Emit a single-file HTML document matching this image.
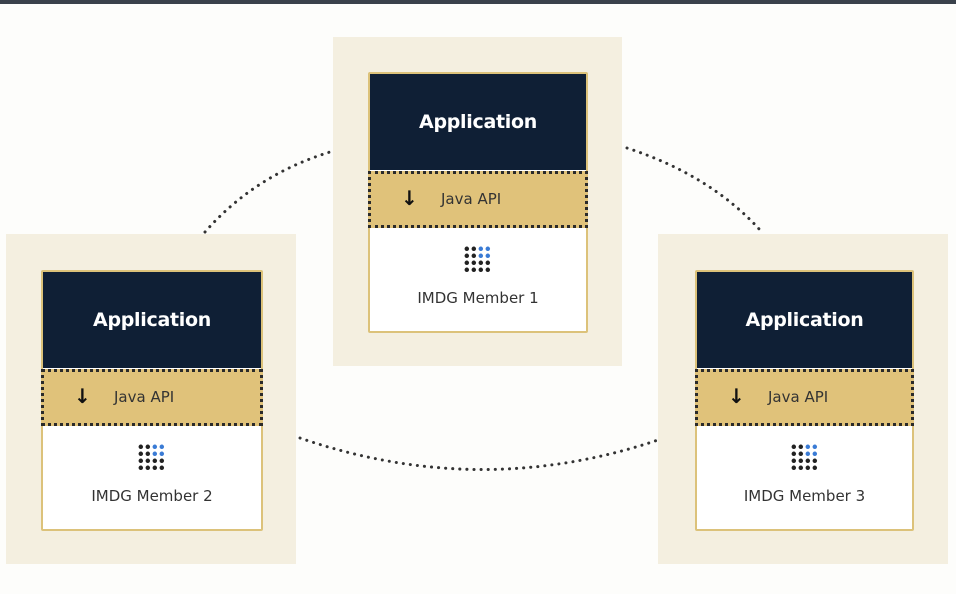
<!DOCTYPE html>
<html><head><style>
body{margin:0;width:956px;height:594px;background:#fdfdfb;position:relative;overflow:hidden;font-family:"DejaVu Sans","Liberation Sans",sans-serif}
.top{position:absolute;left:0;top:0;width:956px;height:4px;background:#3a414b}
.panel{position:absolute;background:#f4efe0}
.card{position:absolute;background:#fff;border:2px solid #dcc27a;border-radius:2px;box-sizing:border-box}
.app{position:absolute;left:0;top:0;right:0;height:96px;background:#0f1f35;color:#fff;font-weight:bold;font-size:19px;text-align:center;line-height:96px;letter-spacing:-0.3px}
.api{position:absolute;left:-2px;right:-2px;top:97px;height:57px;background:#e0c27a;border:3px dotted #2a2a2a;box-sizing:border-box;font-size:15px;color:#333;line-height:51px}
.api span{position:absolute;left:70px}
.api i{position:absolute;left:30px;top:13px;font-style:normal;font-weight:bold;font-size:20px;line-height:22px;color:#111}
.grid{position:absolute;left:50%;margin-left:-14px;top:172px;width:28px;height:28px}
.lbl{position:absolute;left:0;right:0;top:215px;text-align:center;font-size:15px;color:#333}
</style></head><body>
<div class="top"></div>
<svg width="956" height="594" style="position:absolute;left:0;top:0">
<g fill="none" stroke="#333" stroke-width="3" stroke-dasharray="0.1 7" stroke-linecap="round">
<path d="M205 232 Q255 175 330 152"/>
<path d="M627 148 Q710 175 760 230"/>
<path d="M300 438 Q480 500 658 440"/>
</g></svg>
<div class="panel" style="left:333px;top:37px;width:289px;height:329px"></div>
<div class="panel" style="left:6px;top:234px;width:290px;height:330px"></div>
<div class="panel" style="left:658px;top:234px;width:290px;height:330px"></div>

<div class="card" style="left:368px;top:72px;width:220px;height:261px">
<div class="app">Application</div><div class="api"><i>↓</i><span>Java API</span></div>
<svg class="grid" viewBox="0 0 20 20"><g fill="#222"><circle cx="2" cy="2" r="1.6"/><circle cx="7" cy="2" r="1.6"/><circle cx="2" cy="7" r="1.6"/><circle cx="7" cy="7" r="1.6"/><circle cx="2" cy="12" r="1.6"/><circle cx="7" cy="12" r="1.6"/><circle cx="12" cy="12" r="1.6"/><circle cx="17" cy="12" r="1.6"/><circle cx="2" cy="17" r="1.6"/><circle cx="7" cy="17" r="1.6"/><circle cx="12" cy="17" r="1.6"/><circle cx="17" cy="17" r="1.6"/></g><g fill="#3a7bd5"><circle cx="12" cy="2" r="1.6"/><circle cx="17" cy="2" r="1.6"/><circle cx="12" cy="7" r="1.6"/><circle cx="17" cy="7" r="1.6"/></g></svg>
<div class="lbl">IMDG Member 1</div></div>

<div class="card" style="left:41px;top:270px;width:222px;height:261px">
<div class="app">Application</div><div class="api"><i>↓</i><span>Java API</span></div>
<svg class="grid" viewBox="0 0 20 20"><g fill="#222"><circle cx="2" cy="2" r="1.6"/><circle cx="7" cy="2" r="1.6"/><circle cx="2" cy="7" r="1.6"/><circle cx="7" cy="7" r="1.6"/><circle cx="2" cy="12" r="1.6"/><circle cx="7" cy="12" r="1.6"/><circle cx="12" cy="12" r="1.6"/><circle cx="17" cy="12" r="1.6"/><circle cx="2" cy="17" r="1.6"/><circle cx="7" cy="17" r="1.6"/><circle cx="12" cy="17" r="1.6"/><circle cx="17" cy="17" r="1.6"/></g><g fill="#3a7bd5"><circle cx="12" cy="2" r="1.6"/><circle cx="17" cy="2" r="1.6"/><circle cx="12" cy="7" r="1.6"/><circle cx="17" cy="7" r="1.6"/></g></svg>
<div class="lbl">IMDG Member 2</div></div>

<div class="card" style="left:695px;top:270px;width:219px;height:261px">
<div class="app">Application</div><div class="api"><i>↓</i><span>Java API</span></div>
<svg class="grid" viewBox="0 0 20 20"><g fill="#222"><circle cx="2" cy="2" r="1.6"/><circle cx="7" cy="2" r="1.6"/><circle cx="2" cy="7" r="1.6"/><circle cx="7" cy="7" r="1.6"/><circle cx="2" cy="12" r="1.6"/><circle cx="7" cy="12" r="1.6"/><circle cx="12" cy="12" r="1.6"/><circle cx="17" cy="12" r="1.6"/><circle cx="2" cy="17" r="1.6"/><circle cx="7" cy="17" r="1.6"/><circle cx="12" cy="17" r="1.6"/><circle cx="17" cy="17" r="1.6"/></g><g fill="#3a7bd5"><circle cx="12" cy="2" r="1.6"/><circle cx="17" cy="2" r="1.6"/><circle cx="12" cy="7" r="1.6"/><circle cx="17" cy="7" r="1.6"/></g></svg>
<div class="lbl">IMDG Member 3</div></div>
</body></html>
